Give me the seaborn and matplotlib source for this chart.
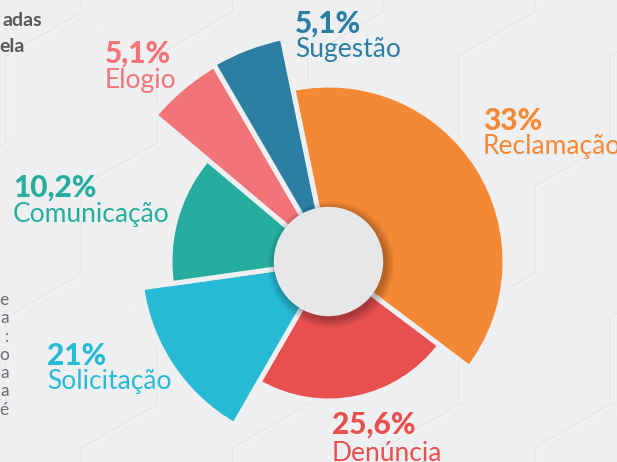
import numpy as np
import matplotlib
matplotlib.use("Agg")
import matplotlib.pyplot as plt
from matplotlib.patches import Circle, RegularPolygon
import seaborn as sns

# dados das manifestações
categorias = ["Reclamação", "Denúncia", "Solicitação", "Comunicação", "Elogio", "Sugestão"]
percentuais = [33, 25.6, 21, 10.2, 5.1, 5.1]
cores = ["#F48834", "#E85050", "#27BAD4", "#26AD9E", "#F27378", "#2C7FA3"]

# geometria de cada fatia (desenho do infográfico, em graus e pixels)
aberturas = [138.7, 83.0, 52.0, 48.1, 19.7, 18.5]
raios = [176.5, 139.5, 188.5, 158.5, 227.0, 228.5]
inicio = -11.7

# posição dos rótulos: x, linha de base do % e do nome
pos_rotulos = [(483, 130, 154), (332, 434, 461), (47, 365, 389),
               (13, 197, 222), (105, 63, 88), (295, 33, 57)]

W, H = 617, 462
cx, cy = 328.5, 261.5
R = 240
fundo = "#EEEFF1"

sns.set_theme(style="white", rc={"figure.facecolor": fundo, "axes.facecolor": fundo})
plt.rcParams["font.family"] = ["Lato", "DejaVu Sans"]
paleta = sns.color_palette(cores)

fig = plt.figure(figsize=(W / 100, H / 100), dpi=100)

# camada de fundo em pixels
ax_bg = fig.add_axes([0, 0, 1, 1])
ax_bg.set_xlim(0, W)
ax_bg.set_ylim(H, 0)
ax_bg.set_axis_off()
ax_bg.add_patch(plt.Rectangle((0, 0), W, H, color=fundo, zorder=0))

# favos hexagonais bem suaves
lado = 151 / np.sqrt(3)
for j in range(-1, 5):
    for i in range(-1, 5):
        x = 82 + i * 151 + (75.5 if j % 2 else 0)
        y = 12 + j * 1.5 * lado + lado
        ax_bg.add_patch(RegularPolygon((x, y), 6, radius=lado, orientation=0,
                                       facecolor="none", edgecolor="#E7E8EB", lw=1.0, zorder=1))
        ax_bg.add_patch(RegularPolygon((x + 1.2, y + 1.2), 6, radius=lado, orientation=0,
                                       facecolor="none", edgecolor="#F3F4F5", lw=0.8, zorder=1))

# texto cortado à esquerda
ax_bg.text(42, 26, "adas", ha="right", va="baseline", fontsize=14, fontweight="bold", color="#58595B")
ax_bg.text(25, 52, "ela", ha="right", va="baseline", fontsize=14, fontweight="bold", color="#58595B")
for k, letra in enumerate(["e", "a", ":", "o", "a", "a", "é"]):
    ax_bg.text(9, 305 + k * 18.3, letra, ha="right", va="baseline", fontsize=12.5, color="#6D6E71")

# gráfico polar
ax = fig.add_axes([(cx - R) / W, (H - cy - R) / H, 2 * R / W, 2 * R / H], projection="polar")
ax.set_theta_zero_location("N")
ax.set_theta_direction(-1)
ax.set_ylim(0, R)
ax.set_axis_off()

angulos = inicio + np.concatenate([[0], np.cumsum(aberturas)[:-1]])
centros = np.deg2rad(angulos + np.array(aberturas) / 2)
ax.bar(centros, raios, width=np.deg2rad(aberturas), bottom=0,
       color=paleta, edgecolor=fundo, linewidth=3.6, align="center")

# miolo com sombra
for k in range(8):
    sombra = Circle((cx + 2.5, cy + 3), 54.7 + k * 1.2, transform=ax_bg.transData,
                    facecolor="black", alpha=0.035, edgecolor="none", clip_on=False)
    ax.add_artist(sombra)
ax.add_artist(Circle((cx, cy), 54.7, transform=ax_bg.transData, facecolor="#E6E7E9",
                     edgecolor="none", clip_on=False))

# rótulos
for cat, val, cor, (x, b1, b2) in zip(categorias, percentuais, cores, pos_rotulos):
    txt = f"{val:g}".replace(".", ",") + "%"
    ax_bg.text(x, b1, txt, ha="left", va="baseline", fontsize=21.5, fontweight="black", color=cor, zorder=5)
    ax_bg.text(x, b2, cat, ha="left", va="baseline", fontsize=19, color=cor, zorder=5)

fig.savefig("out.png", dpi=100, facecolor=fundo)
